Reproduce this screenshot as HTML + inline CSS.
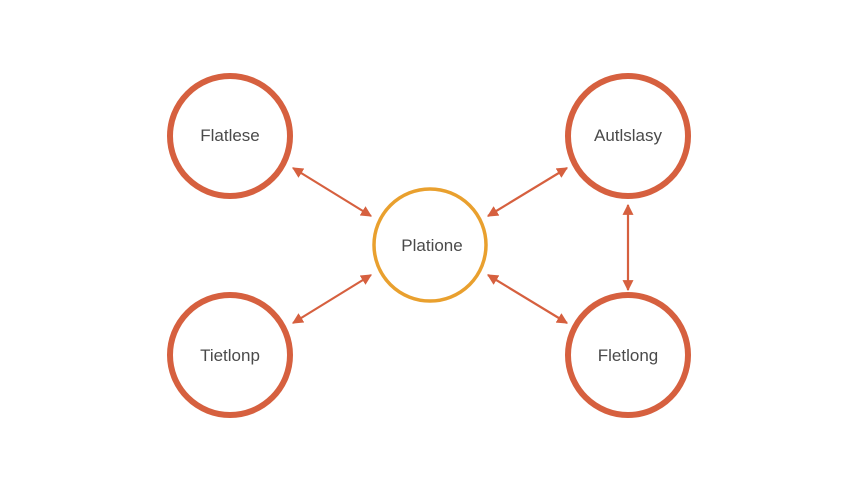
<!DOCTYPE html>
<html><head><style>body{margin:0;background:#fff}</style></head><body>
<svg width="860" height="491" xmlns="http://www.w3.org/2000/svg">
<defs><marker id="a" viewBox="0 0 10 10" refX="9" refY="5" markerWidth="5" markerHeight="5" orient="auto-start-reverse"><path d="M0,0L10,5L0,10z" fill="#D6603F"/></marker></defs>
<g fill="none" stroke="#D6603F" stroke-width="6">
<circle cx="230" cy="136" r="60"/><circle cx="628" cy="136" r="60"/>
<circle cx="230" cy="355" r="60"/><circle cx="628" cy="355" r="60"/>
</g>
<circle cx="430" cy="245" r="56" fill="none" stroke="#E9A02E" stroke-width="3.5"/>
<g stroke="#D6603F" stroke-width="2.2" marker-start="url(#a)" marker-end="url(#a)">
<line x1="293" y1="168" x2="371" y2="216"/>
<line x1="293" y1="323" x2="371" y2="275"/>
<line x1="488" y1="216" x2="567" y2="168"/>
<line x1="488" y1="275" x2="567" y2="323"/>
<line x1="628" y1="205" x2="628" y2="290"/>
</g>
<g font-family="Liberation Sans, sans-serif" font-size="17" fill="#4a4a4a" text-anchor="middle">
<text x="230" y="141">Flatlese</text><text x="628" y="141">Autlslasy</text>
<text x="230" y="361">Tietlonp</text><text x="628" y="361">Fletlong</text>
<text x="432" y="251">Platione</text>
</g>
</svg>
</body></html>
